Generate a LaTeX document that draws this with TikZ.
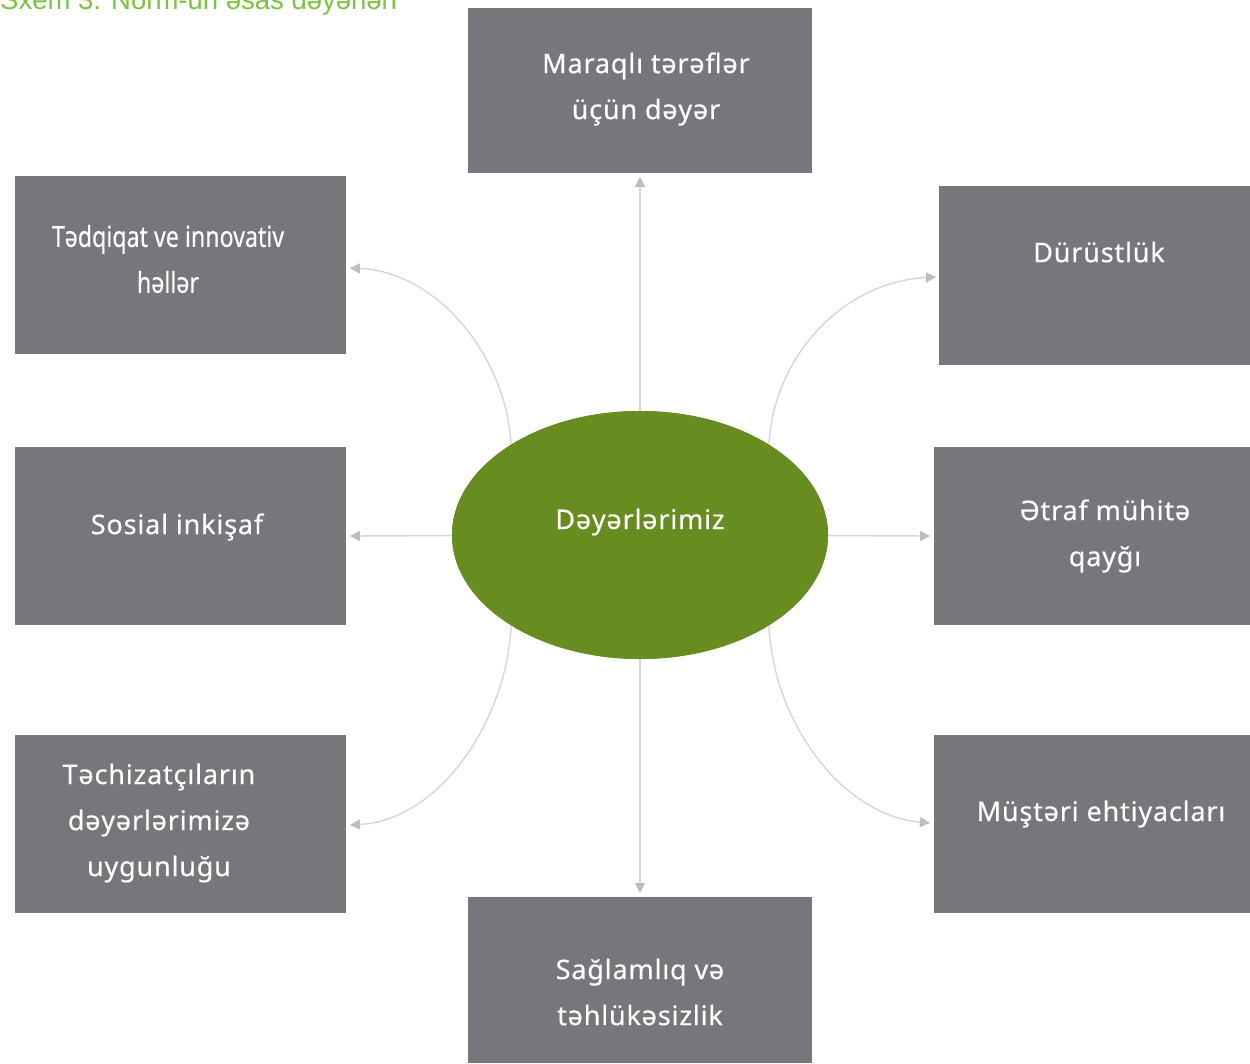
\documentclass[tikz,border=0pt]{standalone}
\usepackage{fontspec}
\setmainfont{Noto Sans}[LetterSpace=3,FakeBold=0.4]
\newfontfamily\titlefont{Liberation Sans}
\newfontfamily\narrowfont{Noto Sans}[FakeBold=0.4]
\usetikzlibrary{arrows.meta,shapes.geometric,calc}
\definecolor{boxgray}{HTML}{76777B}
\definecolor{valgreen}{HTML}{678C1F}
\definecolor{titlegreen}{HTML}{7DC242}
\definecolor{linegray}{HTML}{D6D6D6}
\definecolor{tipgray}{HTML}{BDBDBD}
\tikzset{
  box/.style={fill=boxgray, draw=none, inner sep=0pt, outer sep=0pt},
  lbl/.style={text=white, align=center, inner sep=0pt, font=\fontsize{27}{46}\selectfont},
  conn/.style={draw=linegray, line width=1.4pt, -{Triangle[length=10pt,width=10pt,color=tipgray]}},
  hub/.style={ellipse, fill=valgreen, draw=none, inner sep=0pt, outer sep=0pt, minimum width=376pt, minimum height=248pt}
}
\newcommand{\cond}[1]{\scalebox{0.8}[1]{#1}}
\begin{document}
\begin{tikzpicture}[x=1pt,y=-1pt]
\useasboundingbox (0,0) rectangle (1250,1063);
\clip (0,0) rectangle (1250,1063);
\fill[white] (0,0) rectangle (1250,1063);

% title (cut at top)
\node[anchor=base west, inner sep=0pt, text=titlegreen, font=\titlefont\fontsize{27.5}{30}\selectfont] (title) at (0,9) {Sxem 3. Norm-un əsas dəyərləri};

% boxes
\node[box, minimum width=344pt, minimum height=165pt] (t) at (640,90.5) {};
\node[box, minimum width=331pt, minimum height=178pt] (tl) at (180.5,265) {};
\node[box, minimum width=311pt, minimum height=179pt] (tr) at (1094.5,275.5) {};
\node[box, minimum width=331pt, minimum height=178pt] (ml) at (180.5,536) {};
\node[box, minimum width=316pt, minimum height=178pt] (mr) at (1092,536) {};
\node[box, minimum width=331pt, minimum height=178pt] (bl) at (180.5,824) {};
\node[box, minimum width=316pt, minimum height=178pt] (br) at (1092,824) {};
\node[box, minimum width=344pt, minimum height=166pt] (b) at (640,980) {};

% hub (placed first for anchors, drawn over the lines below)
\node[hub] (e) at (640,535) {};

% connectors
\draw[conn, shorten >=4pt] (e.center) -- (t.south);
\draw[conn, shorten >=4pt] (e.center) -- (b.north);
\draw[conn, shorten >=4pt] (e.center) -- (ml.east);
\draw[conn, shorten >=4pt] (e.center) -- (mr.west);
\draw[conn] (e.145) .. controls (507,360) and (440,272) .. ($(tl.east)+(4,3)$);
\draw[conn] (e.35) .. controls (773,360) and (840,282) .. ($(tr.west)+(-3,1.5)$);
\draw[conn] (e.215) .. controls (507,720) and (440,820) .. ($(bl.east)+(4,1)$);
\draw[conn] (e.-35) .. controls (773,720) and (840,815) .. ($(br.west)+(-4,-1)$);

% hub on top
\node[hub] (e2) at (640,535) {};

% labels
\node[lbl] (tt) at (646,89) {Maraqlı tərəflər\\üçün dəyər};
\node[lbl, font=\narrowfont\fontsize{29}{46}\selectfont] (tlt) at (168,259) {\cond{Tədqiqat ve innovativ}\\\cond{həllər}};
\node[lbl] (trt) at (1099,252) {Dürüstlük};
\node[lbl] (mlt) at (177,527) {Sosial inkişaf};
\node[lbl] (mrt) at (1105,536) {Ətraf mühitə\\qayğı};
\node[lbl] (et) at (640,522) {Dəyərlərimiz};
\node[lbl] (blt) at (159,823) {Təchizatçıların\\dəyərlərimizə\\uygunluğu};
\node[lbl] (brt) at (1101,814) {Müştəri ehtiyacları};
\node[lbl] (bt) at (640,992) {Sağlamlıq və\\təhlükəsizlik};
\end{tikzpicture}
\end{document}
